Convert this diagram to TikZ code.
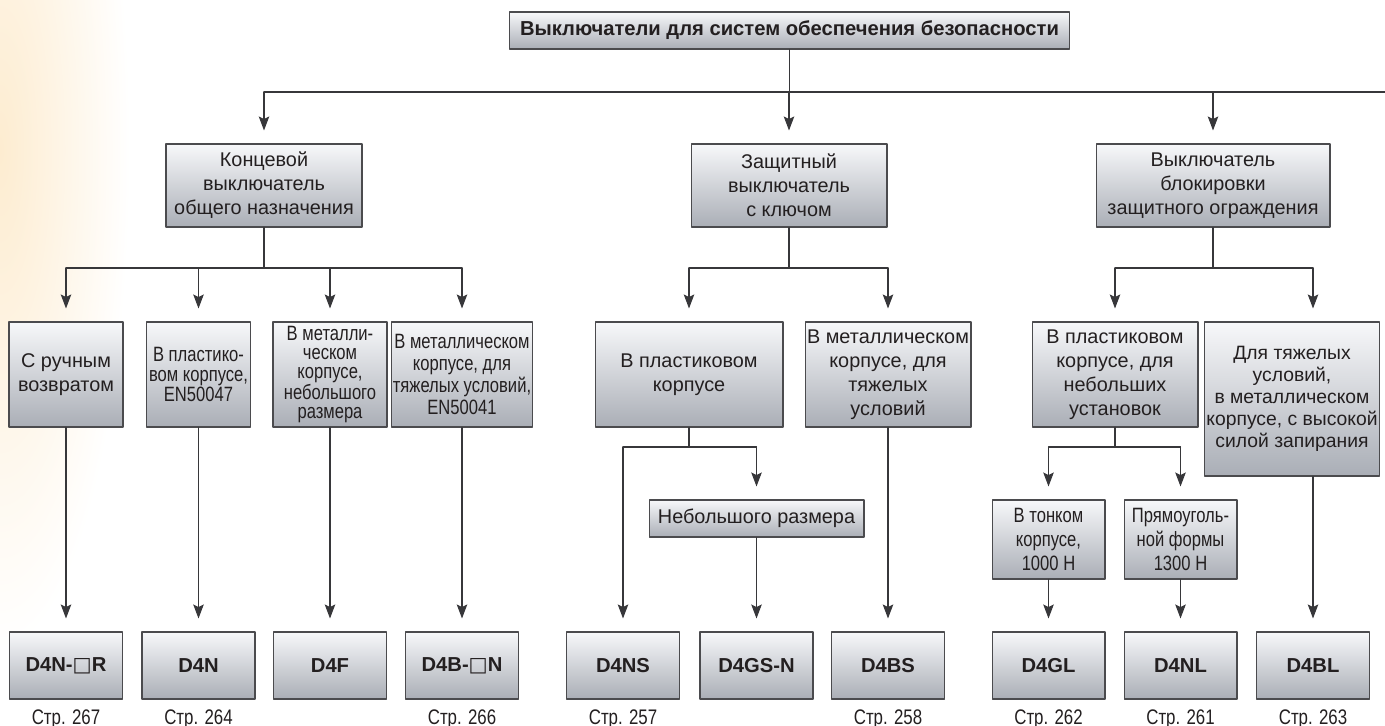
\documentclass[tikz,border=0pt]{standalone}
\usepackage{fontspec}
\setmainfont{Liberation Sans}
\newfontfamily\narrowfont[FakeStretch=0.8]{Liberation Sans}
\newfontfamily\squarefont{DejaVu Sans}
\usetikzlibrary{arrows.meta,positioning}

\definecolor{boxtop}{RGB}{247,248,250}
\definecolor{boxbottom}{RGB}{170,174,182}
\definecolor{boxline}{RGB}{75,75,78}
\definecolor{wiregray}{RGB}{55,55,58}
\definecolor{inkblack}{RGB}{35,31,32}
\definecolor{peach}{RGB}{253,236,208}

\newcommand{\wsq}{{\squarefont\mdseries\char"25A1}}

\begin{document}
\begin{tikzpicture}[x=0.02cm, y=-0.02cm, >=Stealth, line cap=round, line join=round]

% --- Global TikZ Styles ---
\tikzset{
    box/.style={
        draw=boxline,
        line width=0.6pt,
        top color=boxtop,
        bottom color=boxbottom,
        text=inkblack,
        align=center,
        inner xsep=1pt,
        inner ysep=2pt,
        font=\fontsize{11.3}{13.6}\selectfont
    },
    narrowbox/.style={
        box,
        font=\narrowfont\fontsize{11.8}{13.6}\selectfont
    },
    titlebox/.style={
        box,
        minimum width=11.22cm,
        minimum height=0.74cm,
        font=\bfseries\fontsize{11.5}{13}\selectfont
    },
    groupbox/.style={
        box,
        minimum height=1.66cm
    },
    typebox/.style={
        minimum height=2.10cm
    },
    modelbox/.style={
        box,
        minimum width=2.26cm,
        minimum height=1.34cm,
        font=\bfseries\fontsize{11.5}{13}\selectfont
    },
    pagelabel/.style={
        text=inkblack,
        inner sep=1pt,
        font=\narrowfont\fontsize{12}{13}\selectfont
    },
    wire/.style={
        draw=wiregray,
        line width=0.6pt
    },
    link/.style={
        wire,
        -{Stealth[length=8pt, width=6pt, inset=1.5pt]},
        shorten >=0.26cm
    }
}

% --- Achtergrond ---
\useasboundingbox (0,0) rectangle (1385,726);
\begin{scope}
    \clip (0,0) rectangle (1385,726);
    \shade[inner color=peach, outer color=white]
        (0,150) ellipse [x radius=2.6cm, y radius=10cm];
\end{scope}

% --- Hulpcoordinaten voor de verdeellijnen ---
\coordinate (busTop) at (0,92);
\coordinate (busEnd) at (1385,92);
\coordinate (rowB) at (0,268);
\coordinate (rowC) at (0,447);

% --- Bovenste niveau ---
\node[titlebox] (title) at (789.5,30.5)
    {Выключатели для систем обеспечения безопасности};

\node[groupbox, minimum width=3.92cm] (gen) at (264,185.5)
    {Концевой\\выключатель\\общего назначения};
\node[groupbox, minimum width=3.92cm] (key) at (789,185.5)
    {Защитный\\выключатель\\с ключом};
\node[groupbox, minimum width=4.68cm] (lock) at (1213,185.5)
    {Выключатель\\блокировки\\защитного ограждения};

% --- Derde niveau ---
\node[box, typebox, minimum width=2.28cm] (manual) at (66,374.5)
    {С ручным\\возвратом};
\node[narrowbox, typebox, minimum width=2.08cm,
      font=\narrowfont\fontsize{11.8}{11.6}\selectfont] (plastic) at (198.5,374.5)
    {В пластико-\\вом корпусе,\\EN50047};
\node[narrowbox, typebox, minimum width=2.28cm,
      font=\narrowfont\fontsize{11.8}{10.6}\selectfont] (metal) at (330,374.5)
    {В металли-\\ческом\\корпусе,\\небольшого\\размера};
\node[narrowbox, typebox, minimum width=2.70cm,
      font=\narrowfont\fontsize{11.8}{12.4}\selectfont] (heavy) at (462,374.5)
    {В металлическом\\корпусе, для\\тяжелых условий,\\EN50041};

\node[box, typebox, minimum width=3.76cm] (keyplastic) at (689,374.5)
    {В пластиковом\\корпусе};
\node[box, typebox, minimum width=3.32cm] (keymetal) at (888,374.5)
    {В металлическом\\корпусе, для\\тяжелых\\условий};

\node[box, typebox, minimum width=3.32cm] (lockplastic) at (1115,374.5)
    {В пластиковом\\корпусе, для\\небольших\\установок};
\node[box, minimum width=3.44cm, minimum height=3.08cm,
      font=\fontsize{11}{12.6}\selectfont] (lockheavy) at (1292,399)
    {Для тяжелых\\условий,\\в металлическом\\корпусе, с высокой\\силой запирания};

% --- Vierde niveau ---
\node[box, minimum width=4.30cm, minimum height=0.74cm] (compact) at (756.5,518.5)
    {Небольшого размера};
\node[narrowbox, minimum width=2.26cm, minimum height=1.58cm] (thin) at (1048.5,539.5)
    {В тонком\\корпусе,\\1000 Н};
\node[narrowbox, minimum width=2.26cm, minimum height=1.58cm] (rect) at (1180.5,539.5)
    {Прямоуголь-\\ной формы\\1300 Н};

% --- Modellen ---
\node[modelbox] (d4nr)  at (66,665.5)   {D4N-\wsq R};
\node[modelbox] (d4n)   at (198.5,665.5) {D4N};
\node[modelbox] (d4f)   at (330,665.5)  {D4F};
\node[modelbox] (d4bn)  at (462,665.5)  {D4B-\wsq N};
\node[modelbox] (d4ns)  at (623,665.5)  {D4NS};
\node[modelbox] (d4gsn) at (756.5,665.5) {D4GS-N};
\node[modelbox] (d4bs)  at (888,665.5)  {D4BS};
\node[modelbox] (d4gl)  at (1048.5,665.5) {D4GL};
\node[modelbox] (d4nl)  at (1180.5,665.5) {D4NL};
\node[modelbox] (d4bl)  at (1313,665.5) {D4BL};

% --- Paginaverwijzingen ---
\foreach \m/\p in {d4nr/267, d4n/264, d4bn/266, d4ns/257,
                   d4bs/258, d4gl/262, d4nl/261, d4bl/263}
    \node[pagelabel, below=0.16cm of \m] (page\m) {Стр. \p};

% --- Verbindingen bovenaan ---
\draw[wire] (title) -- (title |- busTop);
\draw[wire] (gen |- busTop) -- (busEnd);
\foreach \n in {gen,key,lock}
    \draw[link] (\n |- busTop) -- (\n);

% --- Tak: concevoi ---
\draw[wire] (gen) -- (gen |- rowB);
\draw[wire] (manual |- rowB) -- (heavy |- rowB);
\foreach \n/\m in {manual/d4nr, plastic/d4n, metal/d4f, heavy/d4bn} {
    \draw[link] (\n |- rowB) -- (\n);
    \draw[link] (\n) -- (\m);
}

% --- Tak: met sleutel ---
\draw[wire] (key) -- (key |- rowB);
\draw[wire] (keyplastic |- rowB) -- (keymetal |- rowB);
\draw[link] (keyplastic |- rowB) -- (keyplastic);
\draw[link] (keymetal |- rowB) -- (keymetal);
\draw[link] (keymetal) -- (d4bs);
\draw[wire] (keyplastic) -- (keyplastic |- rowC);
\draw[wire] (d4ns |- rowC) -- (compact |- rowC);
\draw[link] (d4ns |- rowC) -- (d4ns);
\draw[link] (compact |- rowC) -- (compact);
\draw[link] (compact) -- (d4gsn);

% --- Tak: vergrendeling ---
\draw[wire] (lock) -- (lock |- rowB);
\draw[wire] (lockplastic |- rowB) -- (d4bl |- rowB);
\draw[link] (lockplastic |- rowB) -- (lockplastic);
\draw[link] (d4bl |- rowB) -- (d4bl |- lockheavy.north);
\draw[link] (lockheavy.south -| d4bl) -- (d4bl);
\draw[wire] (lockplastic) -- (lockplastic |- rowC);
\draw[wire] (d4gl |- rowC) -- (d4nl |- rowC);
\draw[link] (d4gl |- rowC) -- (thin);
\draw[link] (d4nl |- rowC) -- (rect);
\draw[link] (thin) -- (d4gl);
\draw[link] (rect) -- (d4nl);

\end{tikzpicture}
\end{document}
